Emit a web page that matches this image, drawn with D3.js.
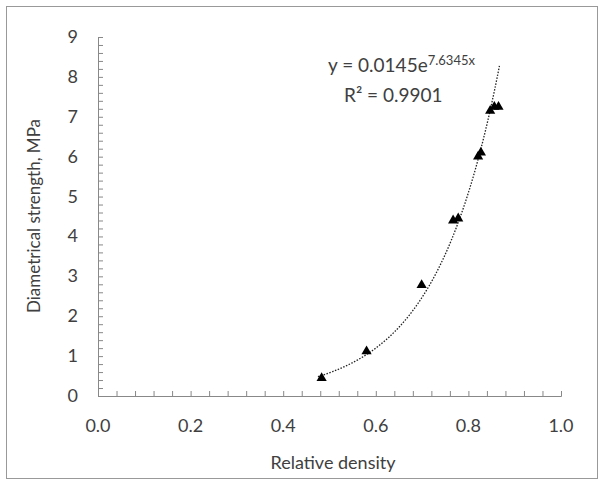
<!DOCTYPE html>
<html><head><meta charset="utf-8">
<script src="https://cdn.jsdelivr.net/npm/d3@7"></script>
<style>body{margin:0;background:#fff}text{font-family:Lato,"Open Sans",sans-serif;fill:#404040}</style>
</head><body><svg id="chart" width="604" height="485"></svg>
<script>
const density = [0.483, 0.580, 0.699, 0.767, 0.778, 0.821, 0.827, 0.847, 0.856, 0.865];
const strength = [0.45, 1.12, 2.78, 4.4, 4.45, 6.0, 6.1, 7.15, 7.25, 7.25];
const xTicks = [0, 0.2, 0.4, 0.6, 0.8, 1.0];
const yTicks = [0, 1, 2, 3, 4, 5, 6, 7, 8, 9];

const svg = d3.select("#chart");
const x = d3.scaleLinear().domain([0, 1]).range([98, 561]);
const y = d3.scaleLinear().domain([0, 9]).range([396, 37]);

svg.append("rect").attr("x", 6.5).attr("y", 6.5).attr("width", 591).attr("height", 472)
  .attr("fill", "none").attr("stroke", "#999");

// minor ticks
svg.append("g").attr("transform", "translate(0,396)")
  .call(d3.axisTop(x).tickValues(d3.range(0, 1.001, 0.04)).tickSize(5).tickFormat(""))
  .call(g => g.select(".domain").attr("stroke", "#888"))
  .call(g => g.selectAll("line").attr("stroke", "#888"));
svg.append("g").attr("transform", "translate(98,0)")
  .call(d3.axisRight(y).tickValues(d3.range(0, 9.001, 0.2)).tickSize(5).tickFormat(""))
  .call(g => g.select(".domain").attr("stroke", "#888"))
  .call(g => g.selectAll("line").attr("stroke", "#888"));

svg.append("g").selectAll("text").data(xTicks).join("text")
  .attr("x", d => x(d)).attr("y", 432).attr("text-anchor", "middle")
  .attr("font-size", 18).text(d => d.toFixed(1));
svg.append("g").selectAll("text").data(yTicks).join("text")
  .attr("x", 78).attr("y", d => y(d) + 6).attr("text-anchor", "end")
  .attr("font-size", 18).text(d => d);

svg.append("text").attr("x", 333).attr("y", 469).attr("text-anchor", "middle")
  .attr("font-size", 18).text("Relative density");
svg.append("text").attr("transform", "translate(40,216) rotate(-90)").attr("text-anchor", "middle")
  .attr("font-size", 17).text("Diametrical strength, MPa");

// exponential fit on log values
const ly = strength.map(Math.log);
const mx = d3.mean(density), my = d3.mean(ly);
const b = d3.sum(density, (d, i) => (d - mx) * (ly[i] - my)) / d3.sum(density, d => (d - mx) ** 2);
const a = Math.exp(my - b * mx);
const fx = d3.range(0.475, 0.868, 0.002);
svg.append("path").datum(fx)
  .attr("d", d3.line().x(d => x(d)).y(d => y(a * Math.exp(b * d))))
  .attr("fill", "none").attr("stroke", "#222").attr("stroke-width", 1.3).attr("stroke-dasharray", "1.5,1.5");

svg.append("g").selectAll("path").data(density).join("path")
  .attr("transform", (d, i) => `translate(${x(d)},${y(strength[i])})`)
  .attr("d", d3.symbol(d3.symbolTriangle, 45)).attr("fill", "#000");

const eq = svg.append("text").attr("x", 328).attr("y", 72).attr("font-size", 19);
eq.append("tspan").text("y = 0.0145e");
eq.append("tspan").attr("font-size", 13).attr("dy", -7).text("7.6345x");
svg.append("text").attr("x", 344).attr("y", 102).attr("font-size", 19).text("R² = 0.9901");
</script></body></html>
